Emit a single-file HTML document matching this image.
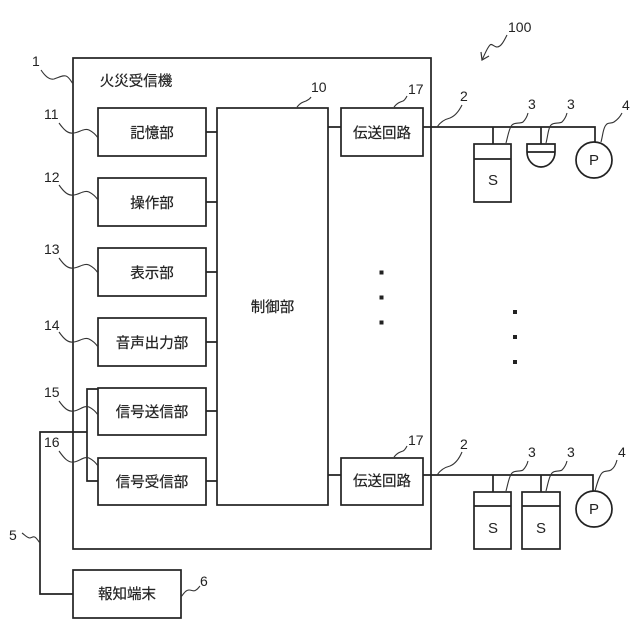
<!DOCTYPE html>
<html><head><meta charset="utf-8"><style>
html,body{margin:0;padding:0;background:#fff;width:640px;height:640px;overflow:hidden}
svg{display:block}
text{font-family:"Liberation Sans","Noto Sans CJK JP",sans-serif;fill:#222}
.j{font-size:14.500px;text-anchor:middle;stroke:#222;stroke-width:.2}
.s{font-size:15px;text-anchor:middle}
.n{font-size:14px}
.b{fill:#fff;stroke:#222;stroke-width:1.7}
.l{fill:none;stroke:#222;stroke-width:1.7}
.w{fill:none;stroke:#333;stroke-width:1.100}
</style></head><body>
<svg width="640" height="640" viewBox="0 0 640 640" xmlns="http://www.w3.org/2000/svg">
<rect class="b" x="73" y="58" width="358" height="491"/>
<rect class="b" x="98" y="108" width="108" height="48"/>
<rect class="b" x="98" y="178" width="108" height="48"/>
<rect class="b" x="98" y="248" width="108" height="48"/>
<rect class="b" x="98" y="318" width="108" height="48"/>
<rect class="b" x="98" y="388" width="108" height="47"/>
<rect class="b" x="98" y="458" width="108" height="47"/>
<rect class="b" x="217" y="108" width="111" height="397"/>
<rect class="b" x="341" y="108" width="82" height="48"/>
<rect class="b" x="341" y="458" width="82" height="47"/>
<rect class="b" x="73" y="570" width="108" height="48"/>
<path class="l" d="M206 132H217M206 202H217M206 272H217M206 342H217M206 411H217M206 481H217M328 127H341M328 475H341"/>
<path class="l" d="M98 389H87V481H98M87 432H40V594H73"/>
<path class="l" d="M423 127H595V142M493 127V144M541 127V144M423 475H593V491M493 475V492M541 475V492"/>
<rect class="b" x="474" y="144" width="37" height="58"/><path class="l" d="M474 159H511"/>
<path class="b" d="M527 144H555V152A14 15 0 0 1 527 152Z"/><path class="l" d="M527 152H555"/>
<circle class="b" cx="594" cy="160" r="18"/>
<rect class="b" x="474" y="492" width="37" height="57"/><path class="l" d="M474 506H511"/>
<rect class="b" x="522" y="492" width="38" height="57"/><path class="l" d="M522 506H560"/>
<circle class="b" cx="594" cy="509" r="18"/>
<g fill="#222">
<rect x="379.500" y="270.500" width="4" height="4"/><rect x="379.500" y="295.500" width="4" height="4"/><rect x="379.500" y="320.500" width="4" height="4"/>
<rect x="513" y="310" width="4" height="4"/><rect x="513" y="335" width="4" height="4"/><rect x="513" y="360" width="4" height="4"/>
</g>
<path class="w" d="M41 70C45 76 49 80 54 79C60 77 63 75 66 76C69 77 71 81 73 84"/>
<path class="w" d="M59 123C64 130 68 134 74 133C80 132 84 128 89 130C93 132 96 135 98 138"/>
<path class="w" d="M59 185C64 192 68 196 74 195C80 194 84 190 89 192C93 194 96 197 98 200"/>
<path class="w" d="M59 258C64 265 68 269 74 268C80 267 84 263 89 265C93 267 96 270 98 273"/>
<path class="w" d="M59 332C64 339 68 343 74 342C80 341 84 337 89 339C93 341 96 344 98 347"/>
<path class="w" d="M59 401C64 408 68 412 74 411C80 410 84 405 89 407C93 409 96 412 98 415"/>
<path class="w" d="M59 451C64 458 68 463 74 462C80 461 84 456 89 458C93 460 96 463 98 466"/>
<path class="w" d="M22 533C25 535 27 538 30 538C33 537 34 536 36 538C38 540 39 542 40 543"/>
<path class="w" d="M181 597C184 593 186 590 189 590C192 590 194 592 196 590C198 589 199 587 200 586"/>
<path class="w" d="M297 107C300 103 303 102 306 101C308 100 310 99 311 97"/>
<path class="w" d="M394 107C397 103 400 102 403 101C405 100 406 98 407 96"/>
<path class="w" d="M394 457C397 453 400 452 403 451C405 450 406 448 407 446"/>
<path class="w" d="M437 127C441 121 446 119 450 118C455 116 459 111 462 105"/>
<path class="w" d="M437 475C441 469 446 467 450 466C455 464 459 459 462 452"/>
<path class="w" d="M506 143C508 136 509 128 512 125C515 122 520 124 523 122C525 120 527 117 528 113"/>
<path class="w" d="M546 143C548 136 548 128 551 125C554 122 559 124 562 122C564 120 566 117 567 113"/>
<path class="w" d="M601 142C603 135 603 128 606 125C608 122 611 124 614 122C617 120 620 117 622 113"/>
<path class="w" d="M506 491C508 484 509 476 512 473C515 470 520 472 523 470C525 468 527 465 528 461"/>
<path class="w" d="M546 491C548 484 549 476 552 473C555 470 559 472 562 470C564 468 566 465 567 461"/>
<path class="w" d="M595 491C597 484 599 476 602 473C605 470 608 472 611 470C614 468 616 464 617 460"/>
<path class="w" d="M507 35C504 41 501 47 497 47C494 47 492 43 490 45C487 48 485 54 482 60"/>
<path fill="none" stroke="#333" stroke-width="1.200" d="M481 52L482 60L489 56"/>
<text class="j" x="136" y="86">火災受信機</text>
<text class="j" x="152" y="138">記憶部</text>
<text class="j" x="152" y="208">操作部</text>
<text class="j" x="152" y="278">表示部</text>
<text class="j" x="152" y="348">音声出力部</text>
<text class="j" x="152" y="417">信号送信部</text>
<text class="j" x="152" y="487">信号受信部</text>
<text class="j" x="272.500" y="312">制御部</text>
<text class="j" x="382" y="138">伝送回路</text>
<text class="j" x="382" y="486">伝送回路</text>
<text class="j" x="127" y="599">報知端末</text>
<text class="s" x="493" y="185">S</text>
<text class="s" x="594" y="165">P</text>
<text class="s" x="493" y="533">S</text>
<text class="s" x="541" y="533">S</text>
<text class="s" x="594" y="514">P</text>
<text class="n" x="32" y="66">1</text>
<text class="n" x="44" y="119">11</text>
<text class="n" x="44" y="182">12</text>
<text class="n" x="44" y="254">13</text>
<text class="n" x="44" y="330">14</text>
<text class="n" x="44" y="397">15</text>
<text class="n" x="44" y="447">16</text>
<text class="n" x="9" y="540">5</text>
<text class="n" x="200" y="586">6</text>
<text class="n" x="311" y="92">10</text>
<text class="n" x="408" y="94">17</text>
<text class="n" x="408" y="445">17</text>
<text class="n" x="460" y="101">2</text>
<text class="n" x="460" y="449">2</text>
<text class="n" x="528" y="109">3</text>
<text class="n" x="567" y="109">3</text>
<text class="n" x="622" y="110">4</text>
<text class="n" x="528" y="457">3</text>
<text class="n" x="567" y="457">3</text>
<text class="n" x="618" y="457">4</text>
<text class="n" x="508" y="32">100</text>
</svg>
</body></html>
